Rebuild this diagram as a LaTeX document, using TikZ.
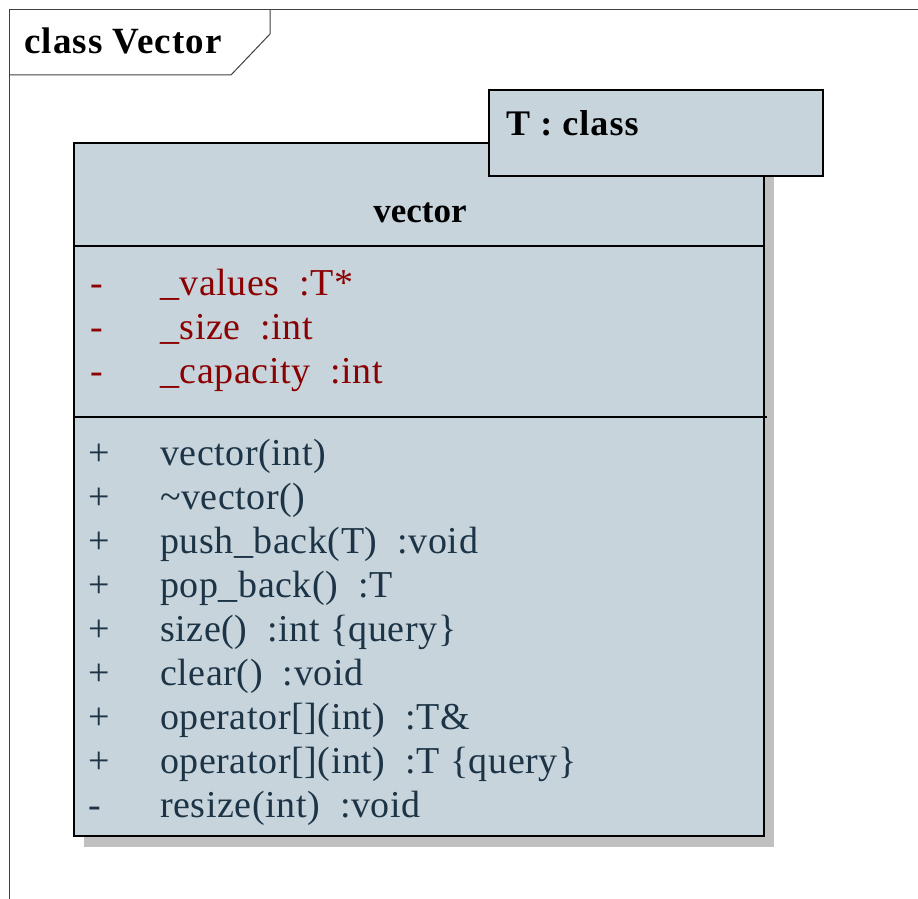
\documentclass[tikz,border=0pt]{standalone}
\usepackage{fontspec}
\setmainfont{Liberation Serif}
\definecolor{boxfill}{HTML}{C7D4DC}
\definecolor{shadowc}{HTML}{C0C0C0}
\definecolor{attrc}{HTML}{8B0000}
\definecolor{opc}{HTML}{1C3446}
\definecolor{framec}{HTML}{404040}
\begin{document}
\begin{tikzpicture}[x=1pt,y=-1pt,
  txt/.style={anchor=base west,inner sep=0pt,font=\fontsize{38}{44}\selectfont\addfontfeatures{LetterSpace=1.5}},
  attr/.style={txt,text=attrc},
  oper/.style={txt,text=opc},
  boxline/.style={draw=black,line width=2.4pt},
  frameline/.style={draw=framec,line width=1pt}]
\useasboundingbox (0,0) rectangle (918,899);
% frame
\draw[frameline] (918,10) -- (9,10) -- (9,899);
\draw[frameline] (9,75) -- (231,75) -- (270,34) -- (270,10);
\node[anchor=base west,inner sep=0pt,font=\fontsize{37}{40}\selectfont\bfseries\addfontfeatures{LetterSpace=3}] (title) at (24,54) {class Vector};
% shadow
\fill[shadowc] (84,153) rectangle (774,847);
% class box
\filldraw[boxline,fill=boxfill] (74,143) rectangle (764,836);
\draw[boxline] (74,246) -- (764,246);
\draw[boxline] (74,417) -- (767,417);
% template box
\filldraw[boxline,fill=boxfill] (489,90) rectangle (823,176);
\node[anchor=base west,inner sep=0pt,font=\fontsize{36}{40}\selectfont\bfseries\addfontfeatures{LetterSpace=3}] (tparam) at (506,135) {T : class};
\node[anchor=base,inner sep=0pt,font=\fontsize{35}{40}\selectfont\bfseries] (cname) at (420,222) {vector};
% attributes
\node[attr] (av1) at (90,295) {-};
\node[attr] (a1) at (160,295) {\_values\ \ :T*};
\node[attr] (av2) at (90,339) {-};
\node[attr] (a2) at (160,339) {\_size\ \ :int};
\node[attr] (av3) at (90,383) {-};
\node[attr] (a3) at (160,383) {\_capacity\ \ :int};
% operations
\foreach \y/\v/\t [count=\i] in {465/+/{vector(int)},
  509/+/{\textasciitilde vector()},
  553/+/{push\_back(T)\ \ :void},
  597/+/{pop\_back()\ \ :T},
  641/+/{size()\ \ :int \{query\}},
  685/+/{clear()\ \ :void},
  729/+/{operator[](int)\ \ :T\&},
  773/+/{operator[](int)\ \ :T \{query\}},
  817/-/{resize(int)\ \ :void}}{
  \node[oper] (ov\i) at (88,\y) {\v};
  \node[oper] (o\i) at (160,\y) {\t};
}
\end{tikzpicture}
\end{document}
